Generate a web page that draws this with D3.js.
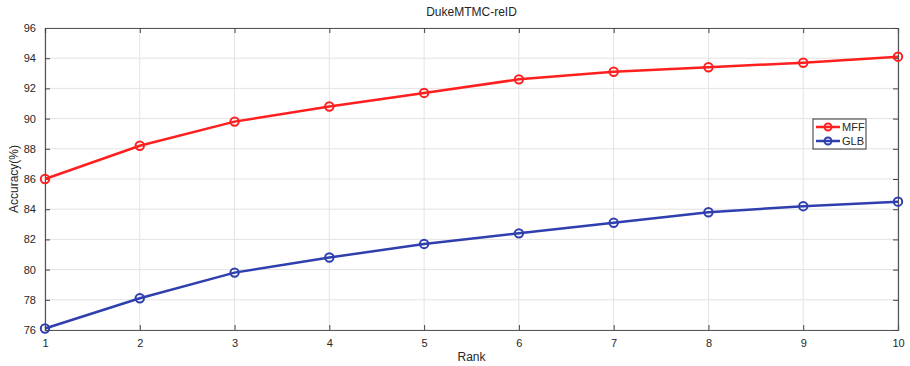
<!DOCTYPE html>
<html lang="en">
<head>
<meta charset="UTF-8">
<title>DukeMTMC-reID</title>
<script src="https://d3js.org/d3.v7.min.js"></script>
<style>
  body { margin: 0; background: #fff; }
  text { font-family: "Liberation Sans", Arial, sans-serif; fill: #262626; }
</style>
</head>
<body>
<div id="chart"></div>
<script>
  const ranks = [1, 2, 3, 4, 5, 6, 7, 8, 9, 10];
  const mff = [86.0, 88.2, 89.8, 90.8, 91.7, 92.6, 93.1, 93.4, 93.7, 94.1];
  const glb = [76.1, 78.1, 79.8, 80.8, 81.7, 82.4, 83.1, 83.8, 84.2, 84.5];
  const yTicks = [76, 78, 80, 82, 84, 86, 88, 90, 92, 94, 96];
  const seriesNames = ['MFF', 'GLB'];
  const seriesColors = ['#ff1f1f', '#2f3fae'];

  const width = 910, height = 366;
  const margin = { top: 28, right: 12, bottom: 36, left: 45 };
  const iw = width - margin.left - margin.right;
  const ih = height - margin.top - margin.bottom;

  const svg = d3.select('#chart').append('svg')
    .attr('width', width).attr('height', height);

  const g = svg.append('g').attr('transform', `translate(${margin.left},${margin.top})`);

  const x = d3.scaleLinear().domain([1, 10]).range([0, iw]);
  const y = d3.scaleLinear().domain([76, 96]).range([ih, 0]);

  // grid
  g.append('g').selectAll('line').data(ranks).enter().append('line')
    .attr('x1', d => x(d)).attr('x2', d => x(d))
    .attr('y1', 0).attr('y2', ih)
    .attr('stroke', '#e3e3e3').attr('stroke-width', 1);
  g.append('g').selectAll('line').data(yTicks).enter().append('line')
    .attr('x1', 0).attr('x2', iw)
    .attr('y1', d => y(d)).attr('y2', d => y(d))
    .attr('stroke', '#e3e3e3').attr('stroke-width', 1);

  // axes (ticks pointing inward, MATLAB style)
  const xAxis = d3.axisBottom(x).tickValues(ranks).tickSize(-5).tickPadding(9).tickFormat(d3.format('d'));
  const yAxis = d3.axisLeft(y).tickValues(yTicks).tickSize(-5).tickPadding(9).tickFormat(d3.format('d'));
  const xTop = d3.axisTop(x).tickValues(ranks).tickSize(-5).tickFormat('');
  const yRight = d3.axisRight(y).tickValues(yTicks).tickSize(-5).tickFormat('');

  function styleAxis(sel) {
    sel.selectAll('path').attr('stroke', '#555').attr('stroke-width', 1.2);
    sel.selectAll('line').attr('stroke', '#444').attr('stroke-width', 1);
    sel.selectAll('text').attr('font-size', 11).attr('fill', '#262626');
  }
  g.append('g').attr('transform', `translate(0,${ih})`).call(xAxis).call(styleAxis);
  g.append('g').call(yAxis).call(styleAxis);
  g.append('g').call(xTop).call(styleAxis);
  g.append('g').attr('transform', `translate(${iw},0)`).call(yRight).call(styleAxis);

  // lines
  const series = [mff, glb];
  const line = d3.line().x((d, i) => x(ranks[i])).y(d => y(d));
  series.forEach((vals, k) => {
    g.append('path').datum(vals)
      .attr('fill', 'none')
      .attr('stroke', seriesColors[k])
      .attr('stroke-width', 2.5)
      .attr('d', line);
    g.append('g').selectAll('circle').data(vals).enter().append('circle')
      .attr('cx', (d, i) => x(ranks[i])).attr('cy', d => y(d))
      .attr('r', 4.2)
      .attr('fill', 'none')
      .attr('stroke', seriesColors[k])
      .attr('stroke-width', 2);
  });

  // title & labels
  svg.append('text').attr('x', margin.left + iw / 2).attr('y', 16)
    .attr('text-anchor', 'middle').attr('font-size', 12).text('DukeMTMC-reID');
  svg.append('text').attr('x', margin.left + iw / 2).attr('y', 361)
    .attr('text-anchor', 'middle').attr('font-size', 12).text('Rank');
  svg.append('text')
    .attr('transform', `translate(18,${margin.top + ih / 2}) rotate(-90)`)
    .attr('text-anchor', 'middle').attr('font-size', 12).text('Accuracy(%)');

  // legend
  const lg = svg.append('g').attr('transform', 'translate(813,119)');
  lg.append('rect').attr('width', 53).attr('height', 30)
    .attr('fill', '#fff').attr('stroke', '#333').attr('stroke-width', 1);
  seriesNames.forEach((name, k) => {
    const yy = 8 + k * 14;
    lg.append('line').attr('x1', 3).attr('x2', 27).attr('y1', yy).attr('y2', yy)
      .attr('stroke', seriesColors[k]).attr('stroke-width', 2.5);
    lg.append('circle').attr('cx', 15).attr('cy', yy).attr('r', 3.5)
      .attr('fill', 'none').attr('stroke', seriesColors[k]).attr('stroke-width', 2);
    lg.append('text').attr('x', 29).attr('y', yy + 4).attr('font-size', 11).text(name);
  });
</script>
</body>
</html>
